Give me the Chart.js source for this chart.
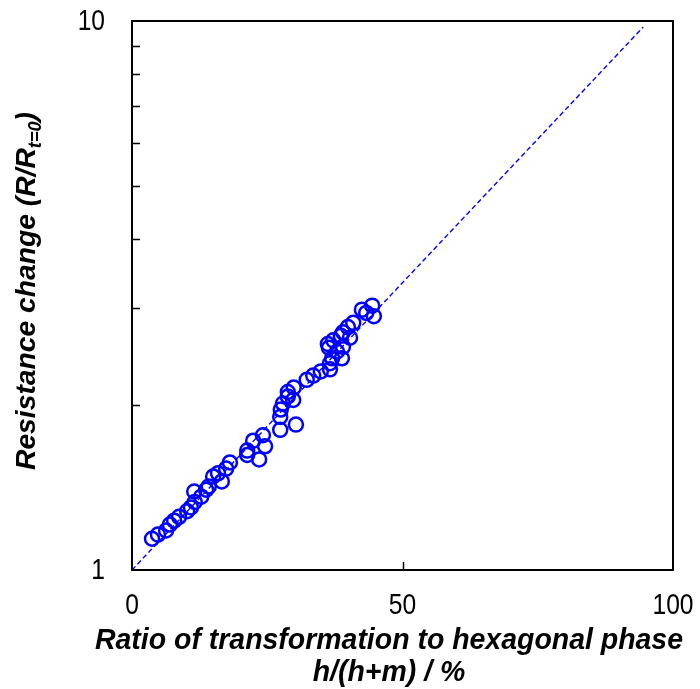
<!DOCTYPE html>
<html>
<head>
<meta charset="utf-8">
<script src="https://cdn.jsdelivr.net/npm/chart.js@4/dist/chart.umd.min.js"></script>
<style>
  html, body { margin: 0; padding: 0; background: #ffffff; }
  #wrap { width: 700px; height: 689px; position: relative; }
</style>
</head>
<body>
<div id="wrap"><canvas id="c" width="700" height="689"></canvas></div>
<script>
// Measured samples: hexagonal-phase ratio (%) vs. normalised resistance R/R(t=0)
const ratioPct = [
  3.7, 4.8, 6.3, 7.0, 7.8, 8.7, 10.2, 10.9, 11.5, 11.6,
  12.8, 13.7, 14.2, 15.0, 15.9, 16.6, 17.4, 18.1, 21.3, 21.3,
  22.4, 23.5, 24.2, 24.6, 27.4, 27.4, 27.5, 27.9, 28.8, 28.8,
  29.9, 30.3, 29.8, 32.3, 33.5, 34.9, 36.6, 36.6, 37.0, 37.9,
  38.8, 36.4, 36.2, 39.0, 38.6, 39.0, 39.9, 40.9, 42.5, 43.3,
  44.4, 44.7, 40.3, 37.2
];
const resistance = [
  1.14, 1.16, 1.18, 1.21, 1.23, 1.25, 1.28, 1.30, 1.39, 1.33,
  1.36, 1.40, 1.42, 1.48, 1.50, 1.45, 1.53, 1.57, 1.62, 1.65,
  1.72, 1.59, 1.76, 1.68, 1.80, 1.90, 1.96, 2.01, 2.07, 2.11,
  2.15, 1.84, 2.04, 2.22, 2.26, 2.30, 2.32, 2.38, 2.43, 2.50,
  2.43, 2.54, 2.58, 2.55, 2.67, 2.71, 2.77, 2.82, 2.98, 2.94,
  3.03, 2.90, 2.65, 2.62
];

// Exponential guide line (straight on the log axis)
const fitX = [0, 94.5];
const fitY = [1, 9.75];

// Axis ticks
const xTickValues = [0, 50, 100];
const yTickValues = [1, 10];
const yMinorTicks = [2, 3, 4, 5, 6, 7, 8, 9];
const xMinorTicks = [50];

const xTitle = ['Ratio of transformation to hexagonal phase', 'h/(h+m) / %'];
const yTitleMain = 'Resistance change (R/R';
const yTitleSub = 't=0';
const yTitleEnd = ')';

const BLUE = '#0000ff';
const SANS = "'Liberation Sans', Arial, sans-serif";
const TICK_SIZE = 30;
const TICK_SQUEEZE = 0.82;

const points = ratioPct.map((x, i) => ({ x, y: resistance[i] }));
const fitLine = fitX.map((x, i) => ({ x, y: fitY[i] }));

function zeroPadding(scale) {
  scale.paddingTop = 0;
  scale.paddingBottom = 0;
  scale.paddingLeft = 0;
  scale.paddingRight = 0;
}

// Draw a condensed label centred horizontally on (x, y)
function squeezedText(ctx, text, x, y, squeeze) {
  ctx.save();
  ctx.translate(x, y);
  ctx.scale(squeeze, 1);
  ctx.fillText(text, 0, 0);
  ctx.restore();
}

// Frame, inward tick marks, tick labels and axis titles
const decorations = {
  id: 'decorations',
  afterDraw(chart) {
    const { ctx, chartArea: a, scales } = chart;
    const xs = scales.x, ys = scales.y;
    ctx.save();
    ctx.strokeStyle = '#000';
    ctx.lineWidth = 2;
    ctx.strokeRect(a.left, a.top, a.right - a.left, a.bottom - a.top);

    ctx.lineWidth = 1.5;
    ctx.beginPath();
    yMinorTicks.forEach(v => {
      const y = Math.round(ys.getPixelForValue(v)) + 0.5;
      ctx.moveTo(a.left, y);
      ctx.lineTo(a.left + 8, y);
    });
    xMinorTicks.forEach(v => {
      const x = Math.round(xs.getPixelForValue(v)) + 0.5;
      ctx.moveTo(x, a.bottom);
      ctx.lineTo(x, a.bottom - 8);
    });
    ctx.stroke();

    // tick labels taken from each scale's own ticks
    ctx.fillStyle = '#000';
    ctx.font = TICK_SIZE + 'px ' + SANS;
    ctx.textBaseline = 'middle';
    ctx.textAlign = 'right';
    ys.ticks.forEach((t, i) => {
      const y = ys.getPixelForTick(i);
      ctx.save();
      ctx.translate(a.left - 27, y + 1);
      ctx.scale(TICK_SQUEEZE, 1);
      ctx.fillText(String(t.value), 0, 0);
      ctx.restore();
    });
    ctx.textAlign = 'center';
    xs.ticks.forEach((t, i) => {
      const x = xs.getPixelForTick(i);
      squeezedText(ctx, String(t.value), x, a.bottom + 36, TICK_SQUEEZE);
    });

    // x-axis title, two centred lines
    ctx.textAlign = 'center';
    ctx.textBaseline = 'alphabetic';
    ctx.font = 'italic bold 29px ' + SANS;
    const w1 = ctx.measureText(xTitle[0]).width;
    const sx = 588 / w1;
    const cx = 389;
    squeezedText(ctx, xTitle[0], cx, 649, sx);
    squeezedText(ctx, xTitle[1], cx, 681, sx);

    // y-axis title with subscript, rotated
    const mainFont = 'italic bold 28px ' + SANS;
    const subFont = 'italic bold 18px ' + SANS;
    ctx.font = mainFont;
    const wm = ctx.measureText(yTitleMain).width;
    const we = ctx.measureText(yTitleEnd).width;
    ctx.font = subFont;
    const ws = ctx.measureText(yTitleSub).width;
    const total = wm + ws + we;
    const sy = 358 / total;
    ctx.save();
    ctx.translate(35, 291);
    ctx.rotate(-Math.PI / 2);
    ctx.scale(sy, 1);
    ctx.textAlign = 'left';
    let px = -total / 2;
    ctx.font = mainFont;
    ctx.fillText(yTitleMain, px, 0);
    px += wm;
    ctx.font = subFont;
    ctx.fillText(yTitleSub, px, 6);
    px += ws;
    ctx.font = mainFont;
    ctx.fillText(yTitleEnd, px, 0);
    ctx.restore();

    ctx.restore();
  }
};

new Chart(document.getElementById('c'), {
  type: 'scatter',
  data: {
    datasets: [
      {
        label: 'guide',
        data: fitLine,
        showLine: true,
        borderColor: BLUE,
        borderWidth: 1.4,
        borderDash: [5, 3],
        pointRadius: 0,
        fill: false,
        order: 2
      },
      {
        label: 'samples',
        data: points,
        pointStyle: 'circle',
        pointRadius: 7,
        pointBorderWidth: 2.5,
        pointBorderColor: BLUE,
        pointBackgroundColor: 'rgba(0,0,0,0)',
        showLine: false,
        order: 1
      }
    ]
  },
  options: {
    responsive: false,
    animation: false,
    devicePixelRatio: 1,
    layout: { padding: { left: 0, top: 21, right: 27, bottom: 0 } },
    plugins: {
      legend: { display: false },
      tooltip: { enabled: false },
      title: { display: false }
    },
    scales: {
      x: {
        type: 'linear',
        min: 0,
        max: 100,
        grid: { display: false, drawTicks: false },
        border: { display: true, color: '#000', width: 2 },
        afterBuildTicks(scale) { scale.ticks = xTickValues.map(v => ({ value: v })); },
        afterFit(scale) { scale.height = 119; zeroPadding(scale); },
        ticks: { display: false }
      },
      y: {
        type: 'logarithmic',
        min: 1,
        max: 10,
        grid: { display: false, drawTicks: false },
        border: { display: true, color: '#000', width: 2 },
        afterBuildTicks(scale) { scale.ticks = yTickValues.map(v => ({ value: v })); },
        afterFit(scale) { scale.width = 132; zeroPadding(scale); },
        ticks: { display: false }
      }
    }
  },
  plugins: [decorations]
});
</script>
</body>
</html>
